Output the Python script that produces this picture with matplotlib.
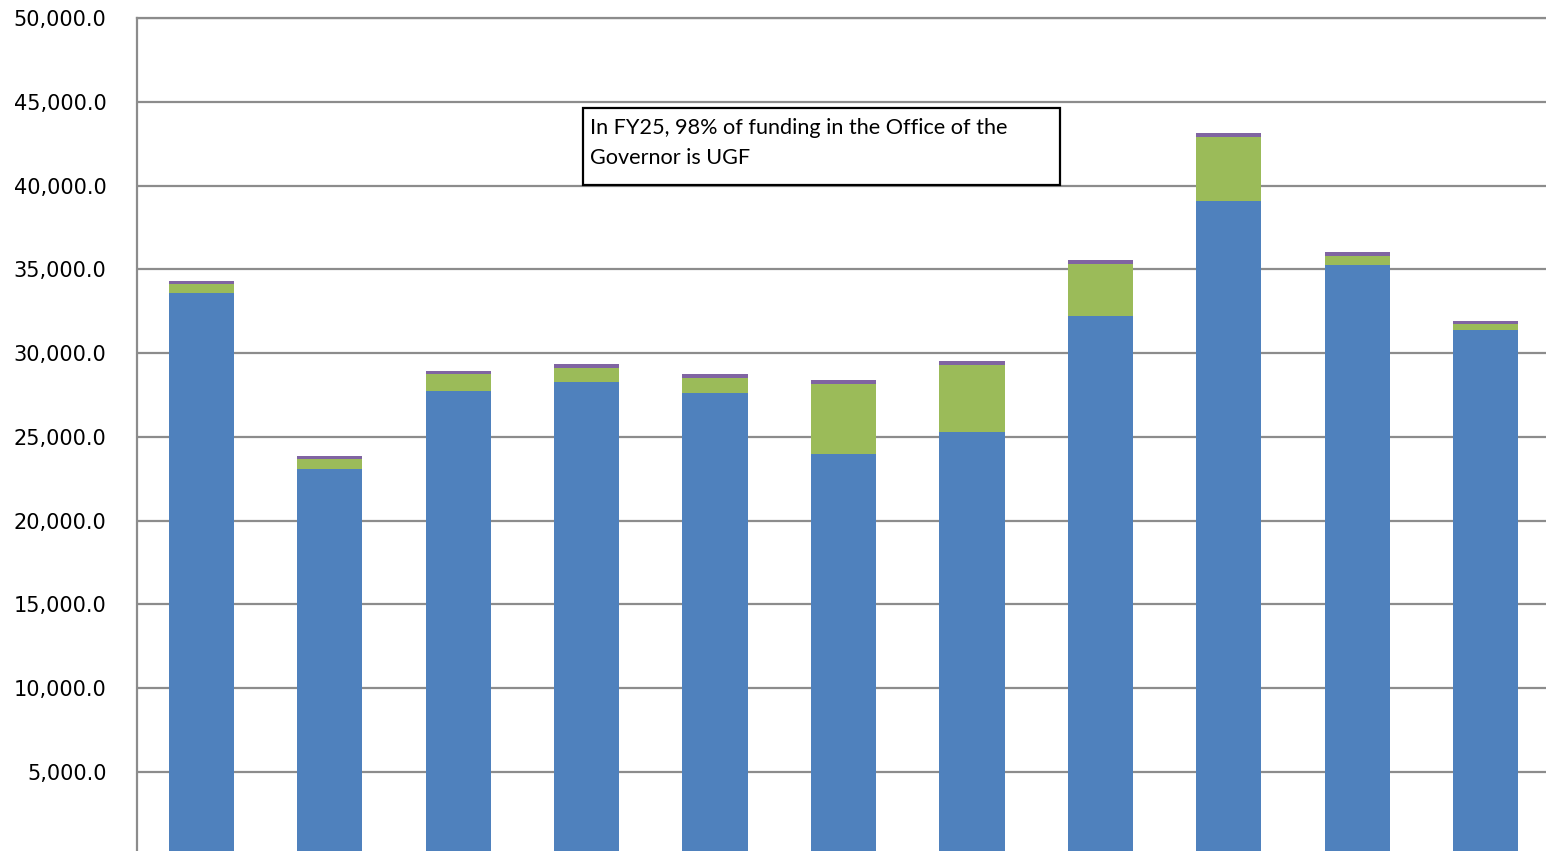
import numpy as np
import matplotlib
matplotlib.use("Agg")
import matplotlib.pyplot as plt
from matplotlib.patches import Rectangle

# Office of the Governor funding by fiscal year (thousands)
years = ["FY15", "FY16", "FY17", "FY18", "FY19", "FY20",
         "FY21", "FY22", "FY23", "FY24", "FY25"]
ugf = np.array([33570, 23100, 27760, 28290, 27640, 23980,
                25290, 32200, 39060, 35280, 31380], dtype=float)
dgf = np.array([537, 563, 979, 836, 877, 4195,
                4016, 3121, 3856, 538, 376], dtype=float)
other = np.array([197, 197, 197, 203, 221, 221,
                  239, 222, 239, 219, 161], dtype=float)

yticks = np.arange(5000, 50001, 5000)

fig = plt.figure(figsize=(15.46, 8.51), dpi=100)
ax = fig.add_axes([137 / 1546, -4.8 / 851, (1550 - 137) / 1546, (855.8 - 18) / 851])

x = np.arange(len(years))
w = 0.507
ax.bar(x, ugf, w, color="#4F81BD", zorder=3)
ax.bar(x, dgf, w, bottom=ugf, color="#9BBB59", zorder=3)
ax.bar(x, other, w, bottom=ugf + dgf, color="#8064A2", zorder=3)

ax.set_xlim(-0.5, len(years) - 0.5)
ax.set_ylim(0, 50000)
ax.set_yticks(yticks)
ax.set_yticklabels([f"{v:,.1f}" for v in yticks], fontsize=15)
ax.set_xticks([])
ax.tick_params(axis="y", length=0, pad=22)
ax.yaxis.grid(True, color="#8c8c8c", linewidth=1.6, zorder=0)
ax.set_axisbelow(True)
for s in ["top", "right", "bottom"]:
    ax.spines[s].set_visible(False)
ax.spines["left"].set_color("#8c8c8c")
ax.spines["left"].set_linewidth(1.6)
ax.axhline(50000, color="#8c8c8c", linewidth=1.6, clip_on=False, zorder=1)

# annotation box (figure pixel coords)
box = Rectangle((583 / 1546, 1 - 185 / 851), (1060 - 583) / 1546, (185 - 108) / 851,
                transform=fig.transFigure, facecolor="white", edgecolor="black",
                linewidth=1.6, zorder=5)
fig.patches.append(box)
fig.text(590 / 1546, 1 - 118 / 851,
         "In FY25, 98% of funding in the Office of the\nGovernor is UGF",
         family=["Lato", "DejaVu Sans"], fontsize=15.6, va="top", ha="left",
         linespacing=1.62, zorder=6)

fig.savefig("out.png", dpi=100)
